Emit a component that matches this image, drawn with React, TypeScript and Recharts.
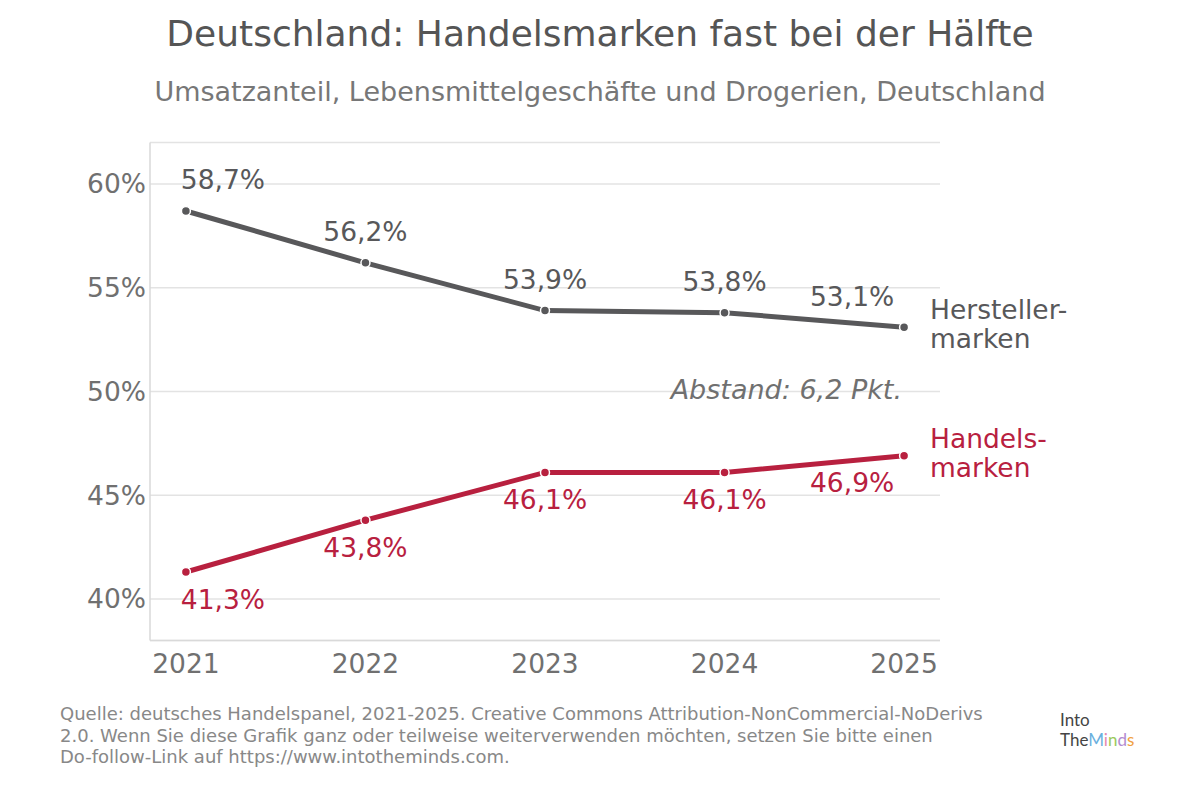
import React from "react"
import { CartesianGrid, LabelList, Line, LineChart, XAxis, YAxis } from "recharts"

document.body.style.margin = "0"

const years = [2021, 2022, 2023, 2024, 2025]
const herstellermarken = [58.7, 56.2, 53.9, 53.8, 53.1]
const handelsmarken = [41.3, 43.8, 46.1, 46.1, 46.9]
const yTicks = [40, 45, 50, 55, 60]

const data = years.map((year, i) => ({
  year,
  hersteller: herstellermarken[i],
  handel: handelsmarken[i],
}))

const FONT = "'DejaVu Sans', sans-serif"
const GREY = "#58585a"
const RED = "#b8203f"

const fmt = (v: number) => `${v.toFixed(1).replace(".", ",")}%`

const makeLabel = (color: string, dy: number) => (props: any) => {
  const { x, y, value, index } = props
  let shift = 0
  if (index === 0) shift = 37
  if (index === years.length - 1) shift = -52
  return (
    <text
      x={x + shift}
      y={y + dy}
      fill={color}
      fontSize={26.5}
      fontFamily={FONT}
      textAnchor="middle"
      dominantBaseline="central"
    >
      {fmt(value)}
    </text>
  )
}

const abs = (style: React.CSSProperties): React.CSSProperties => ({
  position: "absolute",
  fontFamily: FONT,
  whiteSpace: "nowrap",
  ...style,
})

export default function App() {
  return (
    <div style={{ position: "relative", width: 1200, height: 786, background: "#fff", overflow: "hidden" }}>
      <div style={abs({ top: 13, left: 0, width: 1200, textAlign: "center", fontSize: 36, color: "#555" })}>
        Deutschland: Handelsmarken fast bei der Hälfte
      </div>
      <div style={abs({ top: 76, left: 0, width: 1200, textAlign: "center", fontSize: 27, color: "#777" })}>
        Umsatzanteil, Lebensmittelgeschäfte und Drogerien, Deutschland
      </div>

      <LineChart
        width={1200}
        height={786}
        data={data}
        margin={{ top: 142.5, right: 260, bottom: 105.5, left: 70 }}
        style={{ position: "absolute", top: 0, left: 0 }}
      >
        <CartesianGrid vertical={false} stroke="#e3e3e3" strokeWidth={1.5} />
        <XAxis
          dataKey="year"
          type="number"
          domain={[2020.8, 2025.2]}
          ticks={years}
          height={40}
          tickLine={false}
          axisLine={{ stroke: "#d9d9d9", strokeWidth: 1.5 }}
          tick={{ fill: "#707070", fontSize: 26.5, fontFamily: FONT }}
          tickMargin={8}
          allowDecimals={false}
        />
        <YAxis
          type="number"
          domain={[38, 62]}
          ticks={yTicks}
          width={80}
          tickLine={false}
          tickSize={2}
          axisLine={{ stroke: "#d9d9d9", strokeWidth: 1.5 }}
          tick={{ fill: "#707070", fontSize: 26.5, fontFamily: FONT }}
          tickFormatter={(v) => `${v}%`}
          tickMargin={2}
        />
        <Line
          dataKey="hersteller"
          stroke={GREY}
          strokeWidth={5}
          dot={{ r: 4.5, fill: GREY, stroke: "#fff", strokeWidth: 1.5 }}
          isAnimationActive={false}
        >
          <LabelList dataKey="hersteller" content={makeLabel(GREY, -31)} />
        </Line>
        <Line
          dataKey="handel"
          stroke={RED}
          strokeWidth={5}
          dot={{ r: 4.5, fill: RED, stroke: "#fff", strokeWidth: 1.5 }}
          isAnimationActive={false}
        >
          <LabelList dataKey="handel" content={makeLabel(RED, 27)} />
        </Line>
      </LineChart>

      <div style={abs({ top: 296, left: 930, fontSize: 26.5, lineHeight: "28.5px", color: GREY })}>
        Hersteller-
        <br />
        marken
      </div>
      <div style={abs({ top: 425, left: 930, fontSize: 26.5, lineHeight: "28.5px", color: RED })}>
        Handels-
        <br />
        marken
      </div>
      <div style={abs({ top: 374, right: 298, fontSize: 27, fontStyle: "italic", color: "#707070" })}>
        Abstand: 6,2 Pkt.
      </div>

      <div style={abs({ top: 703, left: 60, fontSize: 18, lineHeight: "21.5px", color: "#888", whiteSpace: "normal", width: 960 })}>
        Quelle: deutsches Handelspanel, 2021-2025. Creative Commons Attribution-NonCommercial-NoDerivs
        <br />
        2.0. Wenn Sie diese Grafik ganz oder teilweise weiterverwenden möchten, setzen Sie bitte einen
        <br />
        Do-follow-Link auf https://www.intotheminds.com.
      </div>

      <div style={abs({ top: 710, left: 1060, fontSize: 17, lineHeight: "20px", color: "#444", fontFamily: "Lato, sans-serif" })}>
        Into
        <br />
        The
        <span style={{ color: "#6ab0de" }}>M</span>
        <span style={{ color: "#e58ab0" }}>i</span>
        <span style={{ color: "#9bc95b" }}>n</span>
        <span style={{ color: "#b28cd1" }}>d</span>
        <span style={{ color: "#f0a040" }}>s</span>
      </div>
    </div>
  )
}
